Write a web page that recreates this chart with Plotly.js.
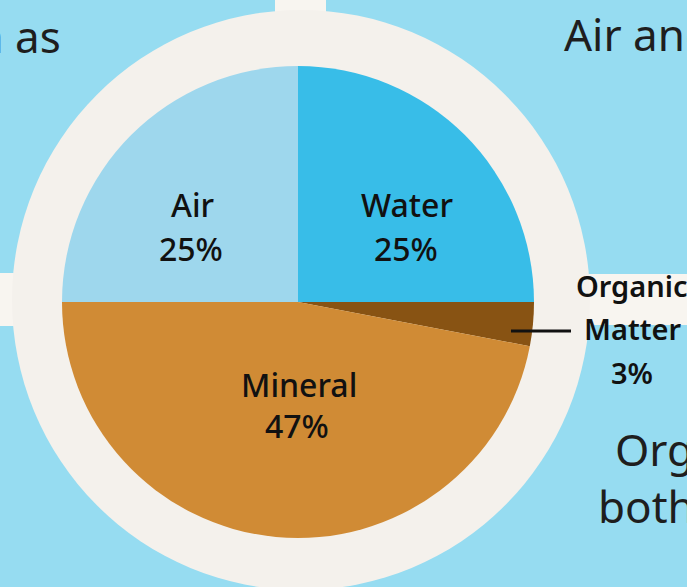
<!DOCTYPE html>
<html>
<head>
<meta charset="utf-8">
<script src="https://cdn.plot.ly/plotly-3.0.1.min.js"></script>
<style>html,body{margin:0;padding:0;background:#96dcf1;}#chart{width:687px;height:587px;}</style>
</head>
<body>
<div id="chart"></div>
<script>
// Data (clockwise from 12 o'clock)
const labels = ["Water", "Organic Matter", "Mineral", "Air"];
const values = [25, 3, 47, 25];
const colors = ["#38bde8", "#885313", "#d08b35", "#9ed7ed"];
// Surrounding slide text fragments
const sideTexts = ["a as", "Air and", "Org", "both"];

const W = 687, H = 587;
const px = x => x / W;
const py = y => 1 - y / H;

const trace = {
  type: "pie",
  values: values,
  labels: labels,
  sort: false,
  direction: "clockwise",
  rotation: 0,
  textinfo: "none",
  hoverinfo: "skip",
  showlegend: false,
  marker: { colors: colors, line: { width: 0 } },
  domain: { x: [px(62), px(534)], y: [py(538), py(66)] }
};

const innerFont = { family: "Noto Sans, sans-serif", size: 32, color: "#111111", weight: 500 };
const omFont = { family: "Noto Sans, sans-serif", size: 29, color: "#111111", weight: 600 };
const sideFont = { family: "Noto Sans, sans-serif", size: 44, color: "#1e1e1e" };

function ann(text, x, y, font, xanchor) {
  return { text: text, x: px(x), y: py(y), xref: "paper", yref: "paper",
           showarrow: false, xanchor: xanchor || "center", yanchor: "middle", font: font };
}

const annotations = [
  ann(labels[3], 193, 205, innerFont), ann(values[3] + "%", 191, 248, innerFont),
  ann(labels[0], 407, 205, innerFont), ann(values[0] + "%", 406, 248, innerFont),
  ann(labels[2], 299, 384, innerFont), ann(values[2] + "%", 297, 425, innerFont),
  ann(labels[1].split(" ")[0], 632, 286, omFont),
  ann(labels[1].split(" ")[1], 632, 328, omFont),
  ann(values[1] + "%", 632, 372, omFont),
  ann(sideTexts[0], 63, 36, sideFont, "right"),
  ann(sideTexts[1], 562, 34, sideFont, "left"),
  ann(sideTexts[2], 613, 449, sideFont, "left"),
  ann(sideTexts[3], 596, 506, sideFont, "left")
];

const ring = "#f4f1ec", stub = "#f8f5f0";
const shapes = [
  { type: "rect", xref: "paper", yref: "paper", x0: px(275), x1: px(326), y0: py(40), y1: py(-5), fillcolor: stub, line: { width: 0 }, layer: "below" },
  { type: "rect", xref: "paper", yref: "paper", x0: px(-5), x1: px(40), y0: py(326), y1: py(273), fillcolor: stub, line: { width: 0 }, layer: "below" },
  { type: "rect", xref: "paper", yref: "paper", x0: px(560), x1: px(700), y0: py(325), y1: py(274), fillcolor: stub, line: { width: 0 }, layer: "below" },
  { type: "circle", xref: "paper", yref: "paper", x0: px(12), x1: px(590), y0: py(590), y1: py(10), fillcolor: ring, line: { width: 0 }, layer: "below" },
  { type: "line", xref: "paper", yref: "paper", x0: px(511), x1: px(571), y0: py(331), y1: py(331), line: { color: "#111111", width: 3 }, layer: "above" }
];

const layout = {
  width: W, height: H,
  margin: { l: 0, r: 0, t: 0, b: 0 },
  paper_bgcolor: "#96dcf1",
  plot_bgcolor: "#96dcf1",
  showlegend: false,
  annotations: annotations,
  shapes: shapes
};

Plotly.newPlot("chart", [trace], layout, { displayModeBar: false, staticPlot: true });
</script>
</body>
</html>
